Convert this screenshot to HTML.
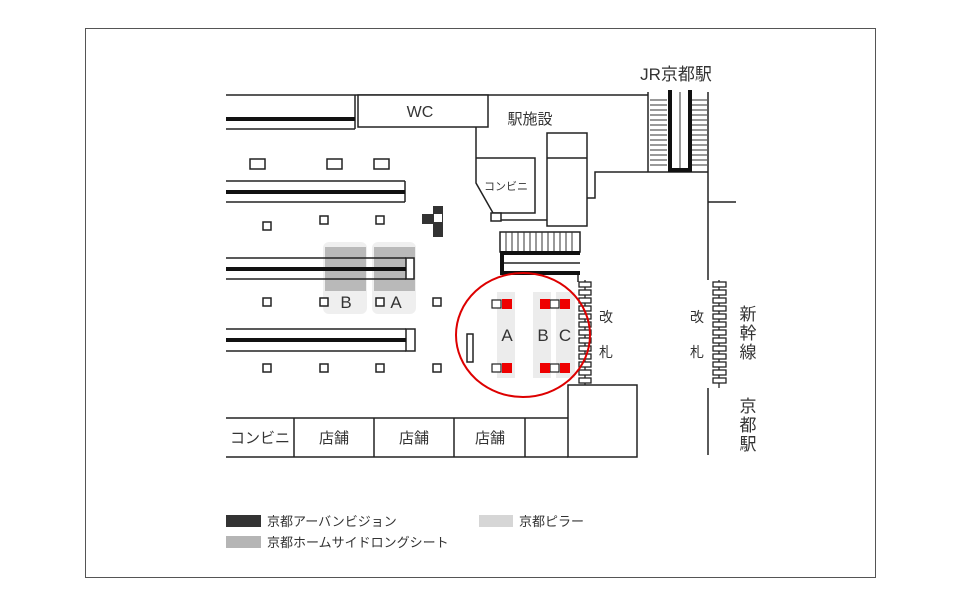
<!DOCTYPE html>
<html><head><meta charset="utf-8"><style>
html,body{margin:0;padding:0;background:#fff}
svg{display:block}
text{font-family:"Liberation Sans","Noto Sans CJK JP",sans-serif;fill:#333}
</style></head><body>
<svg width="960" height="605" viewBox="0 0 960 605" xmlns="http://www.w3.org/2000/svg">
<rect x="85.5" y="28.5" width="790" height="549" fill="#fff" stroke="#555" stroke-width="1"/>
<g fill="none" stroke="#222" stroke-width="1.5">
<!-- top wall -->
<line x1="226" y1="95" x2="648" y2="95"/>
<line x1="226" y1="129" x2="355" y2="129"/>
<line x1="355" y1="95" x2="355" y2="129"/>
<rect x="358" y="95" width="130" height="32" fill="#fff"/>
<!-- rails -->
<line x1="226" y1="181" x2="405" y2="181"/><line x1="226" y1="202" x2="405" y2="202"/><line x1="405" y1="181" x2="405" y2="202"/>
</g>
<!-- pillars gray -->
<rect x="323" y="242" width="44" height="72" rx="6" fill="#efefef"/>
<rect x="372" y="242" width="44" height="72" rx="6" fill="#efefef"/>
<rect x="325" y="247" width="41" height="44" fill="#b9b9b9"/>
<rect x="374" y="247" width="41" height="44" fill="#b9b9b9"/>
<!-- ABC columns -->
<rect x="497" y="292" width="18" height="86" fill="#ececec"/>
<rect x="533" y="292" width="18" height="86" fill="#ececec"/>
<rect x="556" y="292" width="19" height="86" fill="#ececec"/>
<g fill="none" stroke="#222" stroke-width="1.5">
<line x1="226" y1="258" x2="406" y2="258"/><line x1="226" y1="279" x2="406" y2="279"/>
<rect x="406" y="258" width="8" height="21" fill="#fff"/>
<line x1="226" y1="329" x2="406" y2="329"/><line x1="226" y1="351" x2="406" y2="351"/>
<rect x="406" y="329" width="9" height="22" fill="#fff"/>
</g>
<g fill="#111">
<rect x="226" y="117" width="129" height="4"/>
<rect x="226" y="190" width="179" height="4"/>
<rect x="226" y="267" width="180" height="4"/>
<rect x="226" y="338" width="180" height="4"/>
</g>
<!-- small squares -->
<g fill="#fff" stroke="#222" stroke-width="1.5">
<rect x="250" y="159" width="15" height="10"/><rect x="327" y="159" width="15" height="10"/><rect x="374" y="159" width="15" height="10"/>
<rect x="263" y="222" width="8" height="8"/><rect x="320" y="216" width="8" height="8"/><rect x="376" y="216" width="8" height="8"/>
<rect x="263" y="298" width="8" height="8"/><rect x="320" y="298" width="8" height="8"/><rect x="376" y="298" width="8" height="8"/><rect x="433" y="298" width="8" height="8"/>
<rect x="263" y="364" width="8" height="8"/><rect x="320" y="364" width="8" height="8"/><rect x="376" y="364" width="8" height="8"/><rect x="433" y="364" width="8" height="8"/>
<rect x="467" y="334" width="6" height="28"/>
</g>
<!-- dark icon -->
<rect x="433" y="206" width="10" height="31" fill="#333"/>
<rect x="422" y="214" width="12" height="10" fill="#333"/>
<rect x="434" y="214" width="8" height="8" fill="#fff"/>
<!-- right structures -->
<g fill="none" stroke="#222" stroke-width="1.5">
<polyline points="476,127 476,183 493,213 501,213"/>
<polyline points="476,158 535,158 535,213 501,213"/>
<rect x="491" y="213" width="10" height="8" fill="#fff"/>
<line x1="501" y1="220" x2="547" y2="220"/>
<rect x="547" y="133" width="40" height="93"/>
<line x1="547" y1="158" x2="587" y2="158"/>
<polyline points="587,198 595,198 595,172 708,172"/>
<line x1="708" y1="92" x2="708" y2="280"/>
<line x1="708" y1="202" x2="736" y2="202"/>
<line x1="708" y1="388" x2="708" y2="455"/>
<line x1="648" y1="92" x2="648" y2="172"/>
<rect x="500" y="232" width="80" height="20"/>
<line x1="500" y1="263" x2="580" y2="263"/>
<line x1="578" y1="274" x2="578" y2="282"/>
<rect x="568" y="385" width="69" height="72"/>
<line x1="226" y1="418" x2="568" y2="418"/>
<line x1="226" y1="457" x2="568" y2="457"/>
<line x1="294" y1="418" x2="294" y2="457"/><line x1="374" y1="418" x2="374" y2="457"/><line x1="454" y1="418" x2="454" y2="457"/><line x1="525" y1="418" x2="525" y2="457"/>
</g>
<g stroke="#333" stroke-width="1">
<line x1="650" y1="100" x2="667" y2="100"/><line x1="650" y1="105" x2="667" y2="105"/><line x1="650" y1="110" x2="667" y2="110"/><line x1="650" y1="115" x2="667" y2="115"/><line x1="650" y1="120" x2="667" y2="120"/><line x1="650" y1="125" x2="667" y2="125"/><line x1="650" y1="130" x2="667" y2="130"/><line x1="650" y1="135" x2="667" y2="135"/><line x1="650" y1="140" x2="667" y2="140"/><line x1="650" y1="145" x2="667" y2="145"/><line x1="650" y1="150" x2="667" y2="150"/><line x1="650" y1="155" x2="667" y2="155"/><line x1="650" y1="160" x2="667" y2="160"/><line x1="650" y1="165" x2="667" y2="165"/>
<line x1="691" y1="100" x2="707" y2="100"/><line x1="691" y1="105" x2="707" y2="105"/><line x1="691" y1="110" x2="707" y2="110"/><line x1="691" y1="115" x2="707" y2="115"/><line x1="691" y1="120" x2="707" y2="120"/><line x1="691" y1="125" x2="707" y2="125"/><line x1="691" y1="130" x2="707" y2="130"/><line x1="691" y1="135" x2="707" y2="135"/><line x1="691" y1="140" x2="707" y2="140"/><line x1="691" y1="145" x2="707" y2="145"/><line x1="691" y1="150" x2="707" y2="150"/><line x1="691" y1="155" x2="707" y2="155"/><line x1="691" y1="160" x2="707" y2="160"/><line x1="691" y1="165" x2="707" y2="165"/>
<line x1="680" y1="92" x2="680" y2="168"/>
<line x1="506" y1="232" x2="506" y2="252"/><line x1="512" y1="232" x2="512" y2="252"/><line x1="518" y1="232" x2="518" y2="252"/><line x1="524" y1="232" x2="524" y2="252"/><line x1="530" y1="232" x2="530" y2="252"/><line x1="536" y1="232" x2="536" y2="252"/><line x1="542" y1="232" x2="542" y2="252"/><line x1="548" y1="232" x2="548" y2="252"/><line x1="554" y1="232" x2="554" y2="252"/><line x1="560" y1="232" x2="560" y2="252"/><line x1="566" y1="232" x2="566" y2="252"/><line x1="572" y1="232" x2="572" y2="252"/>
</g>
<g fill="#111">
<rect x="668" y="90" width="4" height="82"/><rect x="688" y="90" width="4" height="82"/><rect x="668" y="168" width="24" height="4"/>
<rect x="500" y="251" width="80" height="4"/><rect x="500" y="271" width="80" height="4"/><rect x="500" y="251" width="4" height="24"/>
</g>
<!-- gates -->
<g fill="#fff" stroke="#222" stroke-width="1.3">
<line x1="585" y1="280" x2="585" y2="385"/>
<line x1="719" y1="280" x2="719" y2="388"/>
<rect x="579" y="282" width="12" height="5"/><rect x="579" y="290" width="12" height="5"/><rect x="579" y="298" width="12" height="5"/><rect x="579" y="306" width="12" height="5"/><rect x="579" y="314" width="12" height="5"/><rect x="579" y="322" width="12" height="5"/><rect x="579" y="330" width="12" height="5"/><rect x="579" y="338" width="12" height="5"/><rect x="579" y="346" width="12" height="5"/><rect x="579" y="354" width="12" height="5"/><rect x="579" y="362" width="12" height="5"/><rect x="579" y="370" width="12" height="5"/><rect x="579" y="378" width="12" height="5"/>
<rect x="713" y="282" width="13" height="5"/><rect x="713" y="290" width="13" height="5"/><rect x="713" y="298" width="13" height="5"/><rect x="713" y="306" width="13" height="5"/><rect x="713" y="314" width="13" height="5"/><rect x="713" y="322" width="13" height="5"/><rect x="713" y="330" width="13" height="5"/><rect x="713" y="338" width="13" height="5"/><rect x="713" y="346" width="13" height="5"/><rect x="713" y="354" width="13" height="5"/><rect x="713" y="362" width="13" height="5"/><rect x="713" y="370" width="13" height="5"/><rect x="713" y="378" width="13" height="5"/>
</g>
<!-- ABC squares -->
<g stroke="#222" stroke-width="1.2" fill="#fff">
<rect x="492" y="300" width="9" height="8"/><rect x="550" y="300" width="9" height="8"/>
<rect x="492" y="364" width="9" height="8"/><rect x="550" y="364" width="9" height="8"/>
</g>
<g fill="#e00">
<rect x="502" y="299" width="10" height="10"/><rect x="540" y="299" width="10" height="10"/><rect x="560" y="299" width="10" height="10"/>
<rect x="502" y="363" width="10" height="10"/><rect x="540" y="363" width="10" height="10"/><rect x="560" y="363" width="10" height="10"/>
</g>
<ellipse cx="523" cy="335" rx="67" ry="62" fill="none" stroke="#d00" stroke-width="2"/>
<!-- texts -->
<text x="420" y="117" font-size="16" text-anchor="middle">WC</text>
<text x="530" y="124" font-size="15" text-anchor="middle">駅施設</text>
<text x="506" y="190" font-size="11" text-anchor="middle">コンビニ</text>
<text x="676" y="80" font-size="17" text-anchor="middle">JR京都駅</text>
<text x="346" y="308" font-size="17" text-anchor="middle">B</text>
<text x="396" y="308" font-size="17" text-anchor="middle">A</text>
<text x="507" y="341" font-size="17" text-anchor="middle">A</text>
<text x="543" y="341" font-size="17" text-anchor="middle">B</text>
<text x="565" y="341" font-size="17" text-anchor="middle">C</text>
<text x="606" y="322" font-size="14" text-anchor="middle">改</text>
<text x="606" y="357" font-size="14" text-anchor="middle">札</text>
<text x="697" y="322" font-size="14" text-anchor="middle">改</text>
<text x="697" y="357" font-size="14" text-anchor="middle">札</text>
<text x="748" y="320" font-size="17" text-anchor="middle">新</text>
<text x="748" y="339" font-size="17" text-anchor="middle">幹</text>
<text x="748" y="358" font-size="17" text-anchor="middle">線</text>
<text x="748" y="412" font-size="17" text-anchor="middle">京</text>
<text x="748" y="431" font-size="17" text-anchor="middle">都</text>
<text x="748" y="450" font-size="17" text-anchor="middle">駅</text>
<text x="260" y="443" font-size="15" text-anchor="middle">コンビニ</text>
<text x="334" y="443" font-size="15" text-anchor="middle">店舗</text>
<text x="414" y="443" font-size="15" text-anchor="middle">店舗</text>
<text x="490" y="443" font-size="15" text-anchor="middle">店舗</text>
<rect x="226" y="515" width="35" height="12" fill="#333"/>
<rect x="226" y="536" width="35" height="12" fill="#b5b5b5"/>
<rect x="479" y="515" width="34" height="12" fill="#d6d6d6"/>
<text x="267" y="526" font-size="13">京都アーバンビジョン</text>
<text x="267" y="547" font-size="13">京都ホームサイドロングシート</text>
<text x="519" y="526" font-size="13">京都ピラー</text>
</svg>
</body></html>
